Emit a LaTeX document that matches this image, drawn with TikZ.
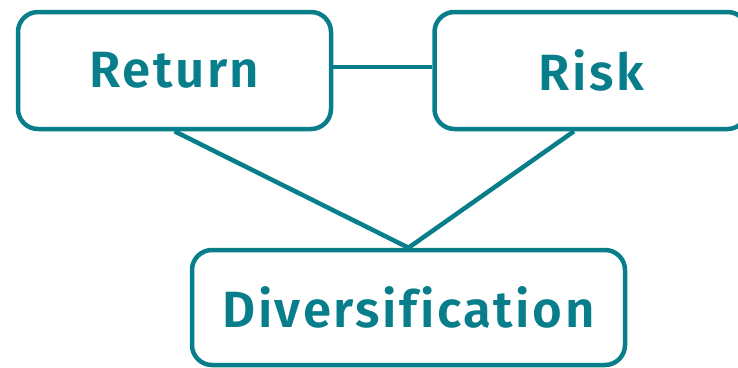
\documentclass[tikz,border=0pt]{standalone}
\usepackage{fontspec}
\setmainfont{Fira Sans}[BoldFont={Fira Sans SemiBold}]
\usetikzlibrary{positioning}
\definecolor{teal1}{RGB}{8,126,139}
\tikzset{
%Define style for the boxes
concept/.style={draw=teal1, line width=4.5pt, rounded corners=20pt,
  text=teal1, font=\fontsize{51}{60}\selectfont\bfseries\addfontfeature{LetterSpace=5,Ligatures=NoCommon},
  inner sep=0pt},
%Define style for the connections
link/.style={draw=teal1, line width=4.5pt},
}

\begin{document}
\begin{tikzpicture}[x=1pt,y=-1pt]
    % Canvas
    \useasboundingbox (0,0) rectangle (738,367);

    % Boxes
    \node[concept, minimum width=313pt, minimum height=117pt] (return) at (174.5,70.5) {Return};
    \node[concept, minimum width=313pt, minimum height=117pt] (risk) at (591,70.5) {Risk};
    \node[concept, minimum width=433pt, minimum height=115pt] (divers) at (408.5,307.5) {Diversification};

    % Connections
    \draw[link] ([yshift=3.5pt]return.east) -- ([yshift=3.5pt]risk.west);
    \draw[link] (return.south) -- (divers.north);
    \draw[link] ([xshift=-17pt]risk.south) -- (divers.north);
\end{tikzpicture}
\end{document}
